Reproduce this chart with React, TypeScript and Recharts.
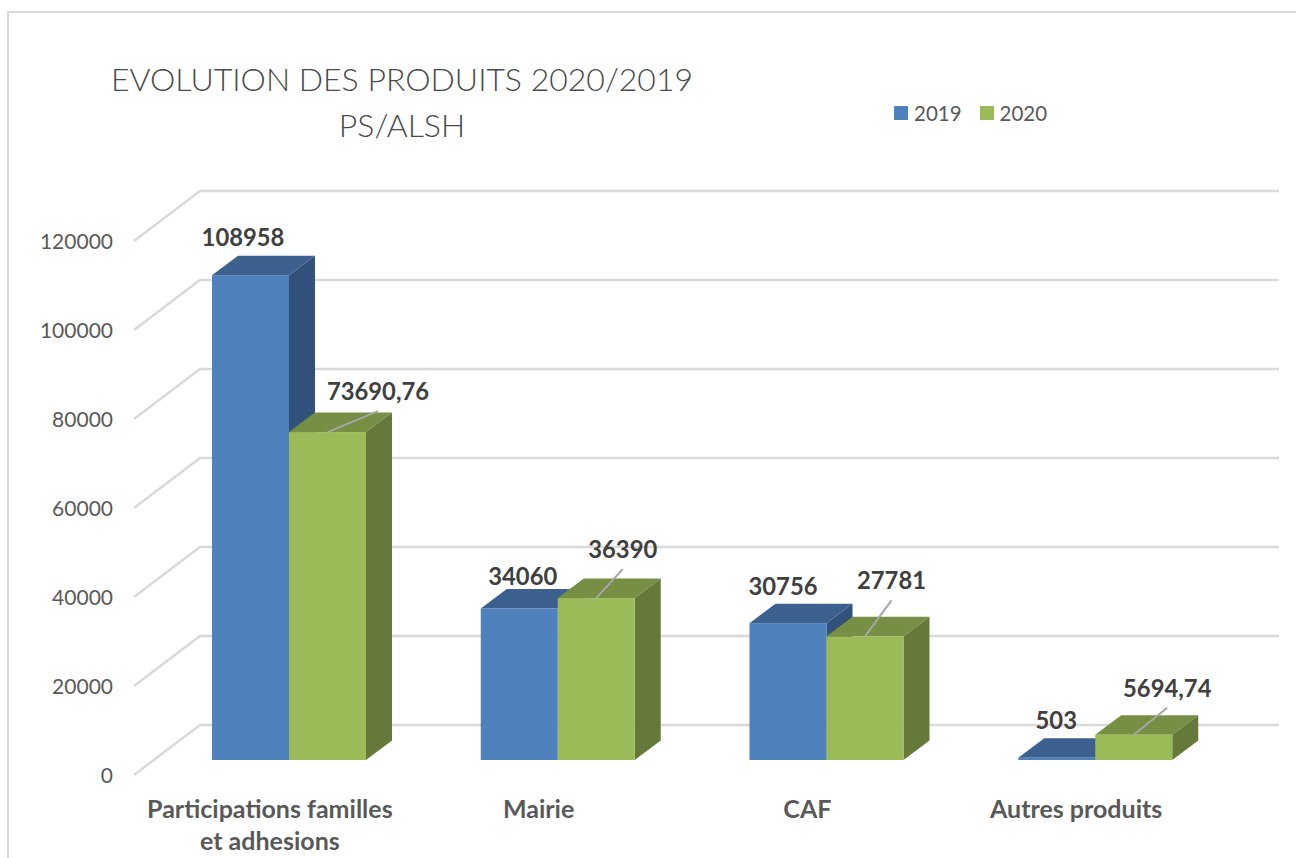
import { BarChart, Bar, XAxis, YAxis, CartesianGrid, Legend, LabelList } from 'recharts';

const categories = ['Participations familles et adhesions', 'Mairie', 'CAF', 'Autres produits'];
const values2019 = [108958, 34060, 30756, 503];
const values2020 = [73690.76, 36390, 27781, 5694.74];
const yTicks = [0, 20000, 40000, 60000, 80000, 100000, 120000];

// hand placed data labels, as [dx, dy] from the top centre of the front face
const labelOffsets2019 = [[-7.5, -37], [3.5, -31], [-5, -36], [-0.5, -37]];
const labelOffsets2020 = [[50.5, -40], [26.5, -48], [26.5, -55], [33.5, -46]];

const data = categories.map((name, i) => ({
  name,
  y2019: values2019[i],
  y2020: values2020[i],
}));

const FONT = 'Lato, sans-serif';
const DEPTH_X = 26;
const DEPTH_Y = 19.5;

const blue = { front: '#4f81bd', top: '#3c618f', side: '#32527b' };
const green = { front: '#9bbb59', top: '#778e45', side: '#64793a' };

function Box3D({ x, y, width, height, colors }: any) {
  const r = x + width;
  const b = y + height;
  return (
    <g>
      <polygon
        points={`${r},${y} ${r + DEPTH_X},${y - DEPTH_Y} ${r + DEPTH_X},${b - DEPTH_Y} ${r},${b}`}
        fill={colors.side}
      />
      <polygon
        points={`${x},${y} ${x + DEPTH_X},${y - DEPTH_Y} ${r + DEPTH_X},${y - DEPTH_Y} ${r},${y}`}
        fill={colors.top}
      />
      <rect x={x} y={y} width={width} height={height} fill={colors.front} />
    </g>
  );
}

// grid runs from the front axis tick, up the side wall, then along the back wall
function GridLine({ x1, y1, x2 }: any) {
  return (
    <path
      d={`M${x1 - 21},${y1 + 15} L${x1 + 45},${y1 - 35} L${x2 + 49},${y1 - 35}`}
      fill="none"
      stroke="#d9d9d9"
      strokeWidth={2.5}
    />
  );
}

function YTick({ x, y, payload }: any) {
  return (
    <text x={x - 34} y={y + 23} textAnchor="end" fontFamily={FONT} fontSize={21} fill="#595959">
      {payload.value}
    </text>
  );
}

// wraps a category name on word boundaries, like the axis labels of the original
function wrapWords(label: string, maxChars: number) {
  const lines: string[] = [];
  label.split(' ').forEach((word) => {
    const last = lines[lines.length - 1];
    if (last && (last + ' ' + word).length <= maxChars) lines[lines.length - 1] = last + ' ' + word;
    else lines.push(word);
  });
  return lines;
}

function XTick({ x, y, payload }: any) {
  return (
    <text textAnchor="middle" fontFamily={FONT} fontSize={25} fontWeight={700} fill="#595959">
      {wrapWords(payload.value, 24).map((line, i) => (
        <tspan key={line} x={x - 19.5} y={y + 50 + i * 32}>
          {line}
        </tspan>
      ))}
    </text>
  );
}

function makeLabel(offsets: number[][], leader: boolean) {
  return function BarLabel({ x, y, width, value, index }: any) {
    const [dx, dy] = offsets[index];
    const lx = x + width / 2 + dx;
    const ly = y + dy;
    return (
      <g>
        {leader && (
          <line x1={x + width / 2} y1={y} x2={lx} y2={ly + 19} stroke="#a6a6a6" strokeWidth={2} />
        )}
        <text
          x={lx}
          y={ly + 8}
          textAnchor="middle"
          fontFamily={FONT}
          fontSize={23.8}
          fontWeight={700}
          fill="#404040"
        >
          {String(value).replace('.', ',')}
        </text>
      </g>
    );
  };
}

function LegendRow({ payload }: any) {
  return (
    <div style={{ display: 'flex', alignItems: 'center', fontFamily: FONT, fontSize: 20.5, color: '#595959' }}>
      {(payload || []).map((item: any) => (
        <div key={item.value} style={{ display: 'flex', alignItems: 'center', marginRight: 18 }}>
          <span style={{ width: 14, height: 14, background: item.color, marginRight: 6 }} />
          {item.value}
        </div>
      ))}
    </div>
  );
}

const titleLine = {
  position: 'absolute',
  left: 0,
  width: 804,
  textAlign: 'center',
  fontFamily: FONT,
  fontSize: 32,
  fontWeight: 300,
  lineHeight: '46px',
  color: '#4a4a4a',
  whiteSpace: 'nowrap',
} as const;

export default function App() {
  return (
    <div style={{ position: 'absolute', left: 0, top: 0, width: 1296, height: 858, overflow: 'hidden', background: '#fff' }}>
      <div
        style={{
          position: 'absolute',
          left: 7,
          top: 11,
          width: 1289,
          height: 847,
          borderLeft: '2px solid #d9d9d9',
          borderTop: '2px solid #d9d9d9',
          boxSizing: 'border-box',
        }}
      />
      <div style={{ ...titleLine, top: 56 }}>EVOLUTION DES PRODUITS 2020/2019</div>
      <div style={{ ...titleLine, top: 102 }}>PS/ALSH</div>
      <div style={{ position: 'absolute', left: 0, top: 0 }}>
        <BarChart
          width={1296}
          height={858}
          data={data}
          barSize={77}
          barGap={0}
          margin={{ top: 226, right: 66, left: 0, bottom: 0 }}
        >
          <CartesianGrid vertical={false} horizontal={(props: any) => <GridLine key={props.y1} {...props} />} />
          <XAxis dataKey="name" height={98} axisLine={false} tickLine={false} interval={0} tick={<XTick />} />
          <YAxis
            width={155}
            domain={[0, 120000]}
            ticks={yTicks}
            axisLine={false}
            tickLine={false}
            tick={<YTick />}
          />
          <Legend
            content={<LegendRow />}
            verticalAlign="middle"
            wrapperStyle={{ left: 894, top: 101, width: 240, height: 28, bottom: 'auto' }}
          />
          <Bar
            dataKey="y2019"
            name="2019"
            fill={blue.front}
            isAnimationActive={false}
            shape={(props: any) => <Box3D {...props} colors={blue} />}
          >
            <LabelList dataKey="y2019" content={makeLabel(labelOffsets2019, false)} />
          </Bar>
          <Bar
            dataKey="y2020"
            name="2020"
            fill={green.front}
            isAnimationActive={false}
            shape={(props: any) => <Box3D {...props} colors={green} />}
          >
            <LabelList dataKey="y2020" content={makeLabel(labelOffsets2020, true)} />
          </Bar>
        </BarChart>
      </div>
    </div>
  );
}
